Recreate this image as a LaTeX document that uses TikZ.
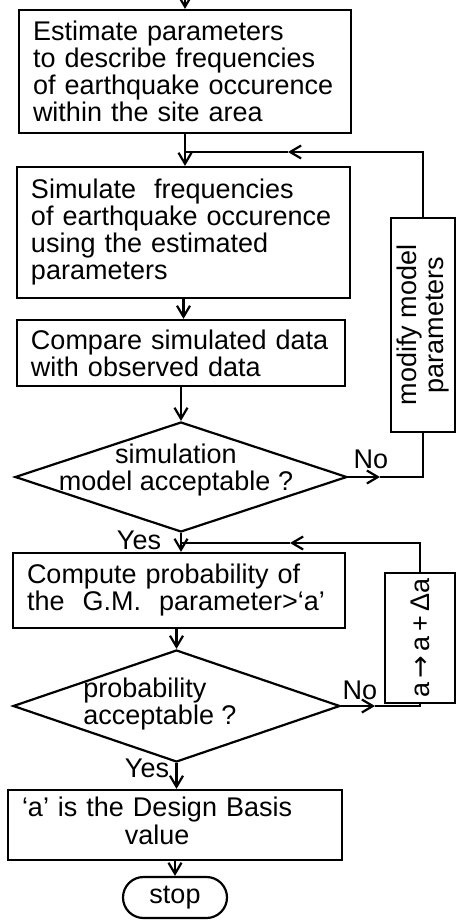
\documentclass[tikz,border=0pt]{standalone}
\usepackage{fontspec}
\setmainfont{Liberation Sans}
\newfontfamily\arrowfont{DejaVu Sans}
\usetikzlibrary{shapes.geometric,shapes.misc,arrows.meta}

\begin{document}
\begin{tikzpicture}[x=0.5pt,y=-0.5pt,
    font=\fontsize{13.5}{13.5}\selectfont,
    process/.style ={rectangle, draw, line width=1.1pt, inner xsep=7pt, inner ysep=0pt, align=left},
    decision/.style ={diamond, draw, line width=1.1pt, inner sep=0pt},
    sidebox/.style ={rectangle, draw, line width=1.1pt, inner sep=0pt},
    terminal/.style ={rounded rectangle, draw, line width=1.1pt, inner sep=0pt},
    flow/.style ={line width=1.1pt, -{Straight Barb[length=5.5pt,width=6.5pt]}},
    link/.style ={line width=1.1pt}]
   \useasboundingbox (0,0) rectangle (456,920);
   % main column
   \node[process, text width=152pt, minimum height=61.5pt] (estimate) at (185,71.5)
      {Estimate parameters\\to describe frequencies\\of earthquake occurence\\within the site area};
   \node[process, text width=152.5pt, minimum height=65.5pt] (simulate) at (183.5,232.5)
      {Simulate\ \ frequencies\\of earthquake occurence\\using the estimated\\parameters};
   \node[process, text width=150pt, minimum height=33pt] (compare) at (181,353)
      {Compare simulated data\\with observed data};
   \node[decision, minimum width=166pt, minimum height=55pt] (accmodel) at (181,477) {};
   \node[align=center] (accmodeltxt) at (176,470) {simulation\\model acceptable ?};
   \node[process, text width=152pt, minimum height=37.5pt] (compute) at (179,590.5)
      {Compute probability of\\the\ \ G.M.\ \ parameter>`a'};
   \node[decision, minimum width=163.5pt, minimum height=56pt] (accprob) at (176.5,706) {};
   \node[align=left] (accprobtxt) at (160,704) {probability\\acceptable ?};
   \node[process, text width=153pt, minimum height=35pt] (design) at (175,825)
      {\begin{tabular}{@{}c@{}}`a' is the Design Basis\\value\end{tabular}};
   \node[terminal, minimum width=52pt, minimum height=20.5pt] (stop) at (175,897.5) {stop};
   % side boxes
   \node[sidebox, minimum width=32pt, minimum height=107pt,
      label={[rotate=90, align=center]center:modify model\\parameters}] (modify) at (423,325) {};
   \node[sidebox, minimum width=35pt, minimum height=65pt,
      label={[rotate=90]center:a\,{\arrowfont→}\,a\,+\,Δa}] (step a) at (420,638) {};
   % labels
   \node (no1) at (371,459) {No};
   \node (yes1) at (139,540) {Yes};
   \node (no2) at (360,690) {No};
   \node (yes2) at (147,768) {Yes};
   % connectors
   \coordinate (entry) at (185,0);
   \coordinate (join1) at (185,152);
   \coordinate (tip1) at (288,152);
   \coordinate (join2) at (181,543);
   \coordinate (tip2) at (290,543);
   \coordinate (tipno1) at (380,477);
   \coordinate (tipno2) at (375,706);
   \draw[flow] (entry) -- (estimate.north);
   \draw[flow] (estimate.south) -- (estimate.south |- simulate.north);
   \draw[flow] (simulate.south) -- (simulate.south |- compare.north);
   \draw[flow] (accmodel.north |- compare.south) -- (accmodel.north);
   \draw[flow] (accmodel.south) -- (accmodel.south |- compute.north);
   \draw[flow] (accprob.north |- compute.south) -- (accprob.north);
   \draw[flow] (accprob.south) -- (accprob.south |- design.north);
   \draw[flow] (stop.north |- design.south) -- (stop.north);
   % loop back: model
   \draw[flow] (accmodel.east) -- (tipno1);
   \draw[link] (tipno1) -| (modify.south);
   \draw[flow] (modify.north) |- (tip1);
   \draw[link] (tip1) -- (join1);
   % loop back: probability
   \draw[flow] (accprob.east) -- (tipno2);
   \draw[link] (tipno2) -| (step a.south);
   \draw[flow] (step a.north) |- (tip2);
   \draw[link] (tip2) -- (join2);
 \end{tikzpicture}
\end{document}
